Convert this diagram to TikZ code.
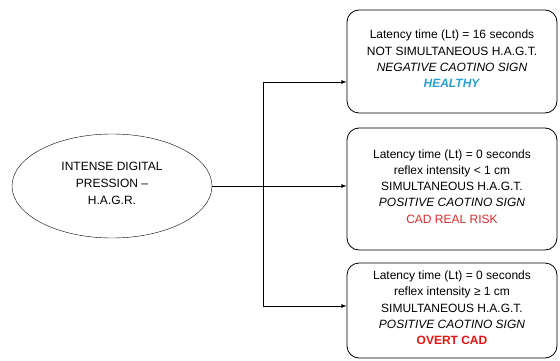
\documentclass[tikz,border=0pt]{standalone}
\usepackage{fontspec}
\setmainfont{Liberation Sans}
\usetikzlibrary{shapes.geometric}
\definecolor{healthy}{RGB}{40,160,210}
\definecolor{riskred}{RGB}{215,45,45}
\definecolor{overtred}{RGB}{225,20,20}

\begin{document}
\begin{tikzpicture}[x=1pt,y=-1pt,
    outcome/.style={draw, thick, rounded corners=12pt, minimum width=210pt, align=center,
        font=\fontsize{12}{16.3}\selectfont, inner sep=0pt},
    pression/.style={draw, ellipse, minimum width=200pt, minimum height=104pt, align=center,
        font=\fontsize{12}{17}\selectfont, inner sep=0pt},
    link/.style={thick},
]
        \useasboundingbox (0,0) rectangle (560,361);

        % Starting ellipse
        \node[pression] (hagr) at (112,186) {INTENSE DIGITAL\\PRESSION --\\H.A.G.R.\\[-11pt]};

        % Outcomes
        \node[outcome, minimum height=103pt] (healthy) at (452,61.5)
            {Latency time (Lt) = 16 seconds\\
             NOT SIMULTANEOUS H.A.G.T.\\
             \textit{NEGATIVE CAOTINO SIGN}\\
             \textcolor{healthy}{\textbf{\textit{HEALTHY}}}\\[-11pt]};
        \node[outcome, minimum height=122pt] (risk) at (452,189)
            {Latency time (Lt) = 0 seconds\\
             reflex intensity < 1 cm\\
             SIMULTANEOUS H.A.G.T.\\
             \textit{POSITIVE CAOTINO SIGN}\\
             \textcolor{riskred}{CAD REAL RISK}\\[-11pt]};
        \node[outcome, minimum height=95pt] (overt) at (452,310.5)
            {Latency time (Lt) = 0 seconds\\
             reflex intensity ≥ 1 cm\\
             SIMULTANEOUS H.A.G.T.\\
             \textit{POSITIVE CAOTINO SIGN}\\
             \textcolor{overtred}{\textbf{OVERT CAD}}\\[-11pt]};

        % Connectors
        \coordinate (top) at (263,82);
        \coordinate (bot) at (263,306);
        \draw[link] (top) -- (bot);
        \draw[link, -latex] (hagr.east) -- (hagr.east -| risk.west);
        \draw[link, -latex] (top) -- (top -| healthy.west);
        \draw[link, -latex] (bot) -- (bot -| overt.west);
\end{tikzpicture}
\end{document}
